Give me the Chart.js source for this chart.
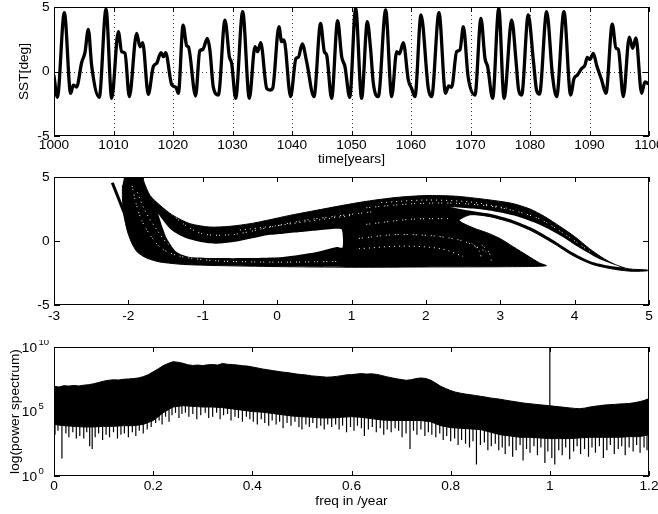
<!DOCTYPE html>
<html>
<head>
<meta charset="utf-8">
<script src="https://cdn.jsdelivr.net/npm/chart.js@4.4.1/dist/chart.umd.min.js"></script>
<style>
  body { margin: 0; background: #fff; }
  #figure { position: relative; width: 658px; height: 514px; overflow: hidden; }
  #figure canvas { position: absolute; left: 0; }
</style>
</head>
<body>
<div id="figure">
  <canvas id="sstSeries" width="658" height="170" style="top:0px"></canvas>
  <canvas id="phasePlot" width="658" height="170" style="top:170px"></canvas>
  <canvas id="powerSpec" width="658" height="174" style="top:340px"></canvas>
</div>
<script>
// ---- SST time series (years 1000-1100) ----
const years = [
  1000.0, 1000.56, 1001.74, 1002.8, 1003.25, 1003.8, 1004.65, 1005.2, 1005.77, 1006.33,
  1007.6, 1008.74, 1009.7, 1010.81, 1011.37, 1011.93, 1012.66, 1013.89, 1014.45, 1014.9,
  1015.85, 1016.69, 1017.25, 1017.98, 1018.38, 1018.76, 1019.8, 1020.5, 1020.9, 1021.7,
  1022.3, 1022.6, 1023.8, 1024.5, 1025.0, 1025.77, 1026.2, 1026.78, 1027.62, 1028.74,
  1029.47, 1029.86, 1030.53, 1031.71, 1032.83, 1033.78, 1034.23, 1034.74, 1035.75, 1036.3,
  1036.75, 1037.8, 1038.26, 1038.65, 1039.77, 1040.67, 1041.06, 1041.73, 1042.46, 1043.69,
  1044.81, 1045.43, 1045.82, 1046.66, 1047.67, 1048.35, 1048.9, 1049.7, 1050.7, 1051.7,
  1052.66, 1053.22, 1053.67, 1054.5, 1055.74, 1056.75, 1057.6, 1058.04, 1058.71, 1059.55,
  1060.1, 1060.67, 1061.68, 1062.91, 1063.47, 1064.7, 1065.8, 1066.33, 1066.83, 1067.67,
  1068.23, 1068.8, 1069.6, 1070.75, 1071.76, 1072.43, 1072.88, 1073.72, 1074.75, 1075.64,
  1076.93, 1077.66, 1078.05, 1078.6, 1079.7, 1080.56, 1081.1, 1081.6, 1082.8, 1083.8,
  1084.48, 1085.7, 1086.83, 1087.4, 1087.95, 1088.68, 1089.24, 1089.63, 1090.08, 1090.64,
  1091.2, 1092.04, 1092.77, 1093.83, 1094.45, 1094.84, 1095.68, 1096.69, 1097.25, 1097.81,
  1098.76, 1099.32, 1099.88, 1100.0
];
const sst = [
  -0.35, -2.0, 4.56, -1.7, -1.05, -1.2, 0.7, 1.46, 3.27, 0.45,
  -2.0, 4.84, -2.08, 3.09, 1.54, 1.41, -1.95, 2.96, 1.92, 2.23,
  -1.77, 0.38, 0.63, 1.46, 1.15, 1.46, -1.04, -1.22, -1.69, 3.6,
  2.0, 1.9, -1.9, 1.6, 1.7, 2.57, 1.67, -1.23, -1.82, 3.99,
  1.15, 0.63, -2.08, 4.64, -2.08, 1.93, 1.54, 2.23, -1.31, -1.44,
  -1.31, 3.47, 2.31, 2.44, -1.95, 1.02, 1.1, 2.13, 0.76, -1.95,
  3.73, 1.54, 1.28, -2.08, 3.94, 1.15, 0.38, -2.0, 4.9, -2.08,
  3.86, 1.67, -0.92, -1.95, 4.77, -1.95, 1.54, 1.36, 2.23, -0.66,
  -1.31, -1.95, 4.38, -1.31, -1.95, 4.56, -1.69, -1.12, -1.22, 1.54,
  1.67, 3.47, -0.41, -1.82, 4.12, 1.02, 0.38, -2.08, 4.9, -2.08,
  3.99, 0.76, -1.31, -1.82, 4.38, 0.89, -1.44, -1.75, 4.64, -0.41,
  -1.95, 4.64, -1.82, -0.54, -0.28, 0.23, 0.49, 1.1, 0.94, 1.41,
  0.49, -0.66, -1.69, 3.68, 1.8, 1.72, -1.95, 2.67, 1.8, 2.6,
  -1.69, -0.8, -0.93, -0.9
];

// ---- phase portrait: outline of the attractor cloud and its empty pockets ----
const phaseRim = [
  [-2.05, 5.2], [-1.82, 5.2], [-1.79, 4.6], [-1.71, 3.57], [-1.575, 2.79], [-1.4, 2.0],
  [-1.17, 1.35], [-0.9, 1.09], [-0.63, 1.15], [-0.365, 1.35], [-0.14, 1.61], [0.17, 2.0],
  [0.53, 2.4], [0.85, 2.75], [1.2, 3.1], [1.6, 3.4], [2.0, 3.55], [2.4, 3.5], [2.8, 3.25],
  [3.15, 2.95], [3.4, 2.5], [3.6, 1.9], [3.8, 1.15], [4.0, 0.35], [4.2, -0.6], [4.4, -1.4],
  [4.55, -1.85], [4.72, -2.17], [4.98, -2.27], [4.98, -2.33], [4.79, -2.37], [4.565, -2.24],
  [4.25, -1.85], [3.98, -1.15], [3.71, -0.16], [3.44, 0.73], [3.17, 1.4], [2.86, 1.9],
  [2.6, 2.05], [2.45, 1.6], [2.64, 1.02], [2.82, 0.65], [3.0, 0.18], [3.18, -0.47],
  [3.36, -1.12], [3.53, -1.72], [3.62, -1.93], [3.3, -2.0], [2.0, -2.03], [1.0, -2.05],
  [0.0, -2.0], [-0.8, -1.92], [-1.26, -1.83], [-1.575, -1.64], [-1.755, -1.33],
  [-1.88, -0.86], [-1.95, -0.21], [-2.01, 0.7], [-2.06, 2.0], [-2.08, 3.31], [-2.08, 4.35]
];
const phaseHole = [
  [-1.6, 2.13], [-1.44, 0.96], [-1.26, 0.31], [-1.03, -0.08], [-0.81, -0.21], [-0.59, -0.08],
  [-0.36, 0.18], [-0.14, 0.45], [0.08, 0.57], [0.31, 0.7], [0.53, 0.83], [0.8, 0.96],
  [0.87, 0.9], [0.88, -0.5], [0.8, -0.47], [0.53, -0.86], [0.08, -1.25], [-0.36, -1.33],
  [-0.81, -1.33], [-1.17, -1.25], [-1.35, -0.86], [-1.48, 0.18], [-1.55, 1.22]
];
const phaseGap = [
  [2.32, 2.66], [2.64, 2.53], [2.91, 2.32], [3.22, 1.93], [3.53, 1.27], [3.8, 0.45],
  [4.07, -0.55], [4.34, -1.43], [4.62, -2.06], [4.25, -1.66], [3.98, -0.92], [3.71, 0.08],
  [3.44, 0.97], [3.17, 1.62], [2.86, 2.12], [2.55, 2.4]
];
// loose, speckled lanes inside the cloud
const phaseStreaks = [
  [[-1.95, 4.3], [-1.9, 3.0], [-1.82, 1.6], [-1.7, 0.4], [-1.55, -0.6], [-1.3, -1.2], [-0.8, -1.55], [0.0, -1.65], [0.8, -1.6]],
  [[-1.88, 3.8], [-1.78, 2.4], [-1.62, 0.9], [-1.45, -0.3], [-1.15, -1.0]],
  [[-1.62, 3.3], [-1.45, 2.3], [-1.25, 1.3], [-1.0, 0.55], [-0.6, 0.5], [-0.2, 0.95], [0.3, 1.55], [0.8, 1.95], [1.3, 2.3]],
  [[-0.5, 0.85], [0.0, 1.2], [0.5, 1.6], [1.0, 2.0]],
  [[1.2, 2.6], [1.8, 2.9], [2.4, 2.95], [3.0, 2.6], [3.5, 1.8], [3.85, 0.6], [4.2, -0.8]],
  [[1.4, 3.0], [2.0, 3.2], [2.6, 3.05], [3.1, 2.55]],
  [[1.1, 0.2], [1.6, 0.5], [2.1, 0.4], [2.5, 0.0], [2.8, -0.8]],
  [[1.1, -0.6], [1.7, -0.4], [2.2, -0.6], [2.5, -1.2]],
  [[1.2, 1.3], [1.8, 1.7], [2.3, 1.75]],
  [[2.62, -0.2], [2.72, -0.8], [2.75, -1.5]],
  [[2.75, -0.3], [2.85, -0.9], [2.88, -1.55]]
];
const phaseSpur = [[-2.216, 4.55], [-1.98, 1.09]];

// ---- power spectrum, values as log10(power) ----
const specStep = 0.01;
const specTop = [
  6.95, 6.90, 7.00, 6.97, 7.02, 6.98, 7.04, 7.08, 7.15, 7.25,
  7.35, 7.42, 7.46, 7.44, 7.50, 7.52, 7.55, 7.60, 7.70, 7.85,
  8.08, 8.30, 8.55, 8.72, 8.86, 8.82, 8.74, 8.62, 8.57, 8.60,
  8.56, 8.62, 8.64, 8.60, 8.72, 8.66, 8.64, 8.60, 8.55, 8.52,
  8.45, 8.38, 8.30, 8.24, 8.18, 8.12, 8.06, 8.02, 7.96, 7.90,
  7.86, 7.82, 7.76, 7.73, 7.70, 7.66, 7.68, 7.72, 7.78, 7.84,
  7.86, 7.90, 7.94, 7.90, 7.92, 7.88, 7.80, 7.70, 7.62, 7.54,
  7.48, 7.42, 7.46, 7.55, 7.60, 7.56, 7.42, 7.20, 6.95, 6.78,
  6.62, 6.50, 6.42, 6.35, 6.30, 6.24, 6.18, 6.12, 6.05, 6.00,
  5.95, 5.88, 5.82, 5.76, 5.70, 5.64, 5.60, 5.56, 5.52, 5.48,
  5.45, 5.40, 5.36, 5.32, 5.28, 5.24, 5.22, 5.26, 5.34, 5.40,
  5.45, 5.50, 5.53, 5.55, 5.58, 5.60, 5.62, 5.68, 5.75, 5.85,
  6.00
];
const baseStep = 0.02;
const specBase = [
  4.0, 3.9, 3.85, 3.8, 3.8, 3.85, 3.85, 3.9, 3.9, 4.0,
  4.3, 4.9, 5.35, 5.45, 5.4, 5.35, 5.35, 5.3, 5.2, 5.1,
  5.0, 4.95, 4.85, 4.75, 4.65, 4.6, 4.55, 4.5, 4.5, 4.55,
  4.6, 4.55, 4.45, 4.35, 4.3, 4.3, 4.3, 4.3, 4.2, 3.9,
  3.75, 3.7, 3.65, 3.6, 3.4, 3.2, 3.1, 3.0, 3.0, 2.95,
  2.9, 2.9, 2.9, 2.95, 3.0, 3.0, 3.0, 3.0, 3.05, 3.05,
  3.2
];
const spikeFreq = [
  0.002, 0.008, 0.016, 0.024, 0.03, 0.038, 0.045, 0.052, 0.06, 0.066,
  0.072, 0.077, 0.083, 0.09, 0.098, 0.105, 0.112, 0.12, 0.128, 0.135,
  0.142, 0.15, 0.158, 0.165, 0.172, 0.18, 0.188, 0.196,
  0.205, 0.212, 0.218, 0.225, 0.232, 0.238, 0.245, 0.252, 0.258,
  0.265, 0.272, 0.28, 0.288, 0.296, 0.305, 0.312, 0.32, 0.328, 0.335,
  0.342, 0.35, 0.357, 0.365, 0.372, 0.38, 0.388, 0.395,
  0.402, 0.41, 0.418, 0.425, 0.433, 0.44, 0.448, 0.455, 0.462, 0.47,
  0.478, 0.486, 0.494, 0.5, 0.508, 0.515, 0.522, 0.53, 0.538, 0.545, 0.552,
  0.56, 0.568, 0.575, 0.582, 0.59, 0.598, 0.605, 0.612, 0.62, 0.626,
  0.634, 0.642, 0.65, 0.658, 0.665, 0.672, 0.68, 0.688, 0.695, 0.702,
  0.71, 0.718, 0.725, 0.732, 0.74, 0.748, 0.755,
  0.762, 0.77, 0.778, 0.785, 0.792, 0.8, 0.808, 0.815, 0.822, 0.83,
  0.838, 0.845, 0.852, 0.86, 0.868, 0.875, 0.882, 0.89, 0.897,
  0.904, 0.91, 0.918, 0.925, 0.932, 0.94, 0.946, 0.953, 0.96, 0.968,
  0.975, 0.982, 0.99, 0.996, 1.004, 1.01, 1.018, 1.025, 1.032, 1.04,
  1.048, 1.055, 1.062, 1.07, 1.078, 1.085, 1.092, 1.1, 1.108, 1.115,
  1.122, 1.13, 1.138, 1.145, 1.152, 1.16, 1.168, 1.175, 1.182, 1.19,
  1.196
];
const spikeTip = [
  3.2, 3.5, 1.35, 3.3, 3.0, 3.4, 2.9, 3.1, 2.9, 3.4,
  2.3, 2.1, 3.0, 3.3, 2.8, 3.2, 3.0, 3.4, 2.9, 3.2,
  3.3, 3.0, 3.4, 3.1, 3.5, 3.3, 3.6, 3.8,
  4.1, 4.3, 4.0, 4.6, 4.2, 4.7, 4.9, 4.5, 4.8,
  4.9, 4.6, 4.8, 4.4, 4.7, 4.9, 4.5, 4.6, 4.9, 4.4,
  4.7, 4.8, 4.3, 4.6, 4.5, 4.2, 4.6, 4.4,
  4.2, 4.0, 4.4, 4.1, 3.9, 4.3, 4.0, 4.2, 3.7, 4.1,
  3.9, 4.2, 3.8, 3.6, 4.0, 3.8, 4.1, 3.7, 3.9, 3.6, 4.0,
  3.8, 4.0, 3.6, 3.9, 3.4, 3.8, 3.5, 3.9, 3.7, 3.1,
  3.6, 3.8, 3.4, 3.7, 3.2, 3.6, 3.4, 3.7, 3.5, 3.0,
  3.3, 2.1, 3.5, 3.2, 3.6, 3.1, 3.4,
  3.2, 3.0, 3.3, 2.8, 3.1, 2.7, 2.9, 2.4, 2.8, 2.5,
  2.2, 2.7, 0.9, 2.4, 2.6, 2.0, 2.3, 2.5, 2.0,
  2.2, 1.7, 2.3, 1.5, 2.0, 2.4, 1.2, 2.1, 1.8, 2.3,
  1.6, 2.2, 1.0, 1.9, 1.4, 0.9, 2.0, 1.6, 2.2, 1.3,
  1.9, 2.3, 1.7, 2.1, 1.5, 2.2, 1.8, 2.3, 1.4, 2.0,
  2.4, 1.7, 2.1, 2.3, 1.6, 2.2, 1.9, 2.4, 1.8, 2.2,
  2.0
];
// annual cycle line
const annualFreq = 1.0;
const annualRange = [5.0, 10.5];
const powerTicks = [1, 1e5, 1e10];

// ---- shared look ----
const FONT = '"Liberation Sans", Arial, Helvetica, sans-serif';
Chart.defaults.font.family = FONT;
Chart.defaults.font.size = 13.7;
Chart.defaults.color = '#000';

const toPts = pairs => pairs.map(([x, y]) => ({ x, y }));
const plainNum = v => String(+v.toFixed(2));

function baseAt(f) {
  const pos = f / baseStep;
  const i = Math.min(Math.floor(pos), specBase.length - 2);
  const w = pos - i;
  return specBase[i] * (1 - w) + specBase[i + 1] * w;
}

// Boxed axes with inward ticks, optional dotted grid
const matlabFrame = {
  id: 'matlabFrame',
  beforeDatasetsDraw(chart, args, opts) {
    if (!opts.grid) return;
    const { ctx, chartArea: a, scales: { x, y } } = chart;
    ctx.save();
    ctx.strokeStyle = 'rgba(0,0,0,0.8)';
    ctx.lineWidth = 1;
    ctx.setLineDash([1, 3]);
    ctx.beginPath();
    x.ticks.forEach(t => {
      const px = Math.round(x.getPixelForValue(t.value)) + 0.5;
      if (px - a.left < 3 || a.right - px < 3) return;
      ctx.moveTo(px, a.top); ctx.lineTo(px, a.bottom);
    });
    y.ticks.forEach(t => {
      const py = Math.round(y.getPixelForValue(t.value)) + 0.5;
      if (py - a.top < 3 || a.bottom - py < 3) return;
      ctx.moveTo(a.left, py); ctx.lineTo(a.right, py);
    });
    ctx.stroke();
    ctx.restore();
  },
  afterDatasetsDraw(chart) {
    const { ctx, chartArea: a, scales: { x, y } } = chart;
    ctx.save();
    ctx.strokeStyle = '#000';
    ctx.lineWidth = 1;
    ctx.beginPath();
    x.ticks.forEach(t => {
      const px = Math.round(x.getPixelForValue(t.value)) + 0.5;
      ctx.moveTo(px, a.bottom); ctx.lineTo(px, a.bottom - 5);
      ctx.moveTo(px, a.top); ctx.lineTo(px, a.top + 5);
    });
    y.ticks.forEach(t => {
      const py = Math.round(y.getPixelForValue(t.value)) + 0.5;
      ctx.moveTo(a.left, py); ctx.lineTo(a.left + 6, py);
      ctx.moveTo(a.right, py); ctx.lineTo(a.right - 6, py);
    });
    ctx.stroke();
    ctx.strokeRect(a.left + 0.5, a.top + 0.5, a.right - a.left - 1, a.bottom - a.top - 1);
    ctx.restore();
  }
};

// 10^n labels for the log axis
const powerLabels = {
  id: 'powerLabels',
  afterDraw(chart) {
    const { ctx, scales: { y } } = chart;
    ctx.save();
    ctx.fillStyle = '#000';
    ctx.textBaseline = 'middle';
    y.ticks.forEach(t => {
      const py = y.getPixelForValue(t.value);
      ctx.font = '13.7px ' + FONT;
      ctx.textAlign = 'right';
      ctx.fillText('10', 37, py + 1);
      ctx.font = '9.5px ' + FONT;
      ctx.textAlign = 'left';
      ctx.fillText(String(Math.round(Math.log10(t.value))), 38.5, py - 5);
    });
    ctx.restore();
  }
};

function commonOptions(grid) {
  return {
    responsive: false,
    animation: false,
    devicePixelRatio: 1,
    events: [],
    layout: { padding: { left: 0, right: 9, top: 7, bottom: 0 } },
    plugins: { legend: { display: false }, tooltip: { enabled: false }, matlabFrame: { grid } },
    elements: { point: { radius: 0 } }
  };
}

function xAxis(min, max, step, height, pad, title, titlePad) {
  return {
    type: 'linear', min, max,
    grid: { display: false, drawTicks: false },
    border: { display: false },
    ticks: { stepSize: step, autoSkip: false, maxRotation: 0, padding: pad, callback: plainNum },
    title: { display: !!title, text: title || '', padding: { top: 0, bottom: titlePad } },
    afterFit: s => { s.height = height; s.paddingLeft = 0; s.paddingRight = 0; }
  };
}

function linearY(title, titlePad) {
  return {
    min: -5, max: 5,
    grid: { display: false, drawTicks: false }, border: { display: false },
    ticks: { stepSize: 5, padding: 4.5, callback: plainNum },
    title: { display: !!title, text: title || '', padding: { top: titlePad, bottom: 0 } },
    afterFit: s => { s.width = 54; s.paddingTop = 0; s.paddingBottom = 0; }
  };
}

// ---- 1: time series ----
const opt1 = commonOptions(true);
opt1.scales = {
  x: xAxis(1000, 1100, 10, 34, 1, 'time[years]', 2.8),
  y: linearY('SST[deg]', 15.8)
};
new Chart(document.getElementById('sstSeries'), {
  type: 'line',
  data: {
    datasets: [{
      data: years.map((t, i) => ({ x: t, y: sst[i] })),
      borderColor: '#000', borderWidth: 3.3, fill: false,
      cubicInterpolationMode: 'monotone', borderJoinStyle: 'round', borderCapStyle: 'round'
    }]
  },
  options: opt1,
  plugins: [matlabFrame]
});

// ---- 2: phase portrait ----
const opt2 = commonOptions(false);
opt2.scales = {
  x: xAxis(-3, 5, 1, 35, 3.5, null, 0),
  y: linearY(null, 0)
};
const phaseSets = [
  { data: toPts(phaseRim), fill: 'shape', backgroundColor: '#000', borderColor: '#000', borderWidth: 1, tension: 0.25, order: 10 },
  { data: toPts(phaseHole), fill: 'shape', backgroundColor: '#fff', borderColor: '#fff', borderWidth: 0, tension: 0.25, order: 9 },
  { data: toPts(phaseGap), fill: 'shape', backgroundColor: '#fff', borderColor: '#fff', borderWidth: 0, tension: 0.25, order: 9 }
];
phaseStreaks.forEach((s, k) => phaseSets.push({
  data: toPts(s), fill: false, borderColor: '#fff', borderWidth: 1,
  borderDash: k % 2 ? [1, 4] : [1, 2, 1, 5], tension: 0.3, order: 8
}));
phaseSets.push({ data: toPts(phaseSpur), fill: false, borderColor: '#000', borderWidth: 3, order: 1 });
new Chart(document.getElementById('phasePlot'), {
  type: 'line',
  data: { datasets: phaseSets },
  options: opt2,
  plugins: [matlabFrame]
});

// ---- 3: power spectrum ----
const spikePts = [];
spikeFreq.forEach((f, i) => {
  spikePts.push({ x: f, y: 10 ** (baseAt(f) + 0.15) }, { x: f, y: 10 ** spikeTip[i] }, { x: f, y: null });
});
const opt3 = commonOptions(false);
opt3.scales = {
  x: xAxis(0, 1.2, 0.2, 38, 2, 'freq in /year', 4.8),
  y: {
    type: 'logarithmic', min: 1, max: 1e10,
    grid: { display: false, drawTicks: false }, border: { display: false },
    ticks: { display: false },
    afterBuildTicks: s => { s.ticks = powerTicks.map(v => ({ value: v })); },
    title: { display: true, text: 'log(power spectrum)', padding: { top: 7.4, bottom: 0 } },
    afterFit: s => { s.width = 54; s.paddingTop = 0; s.paddingBottom = 0; }
  }
};
new Chart(document.getElementById('powerSpec'), {
  type: 'line',
  data: {
    datasets: [
      { data: specTop.map((v, i) => ({ x: i * specStep, y: 10 ** v })), fill: 'start',
        backgroundColor: '#000', borderColor: '#000', borderWidth: 1, order: 4 },
      { data: specBase.map((v, i) => ({ x: i * baseStep, y: 10 ** v })), fill: 'start',
        backgroundColor: '#fff', borderColor: '#000', borderWidth: 1, order: 3 },
      { data: spikePts, fill: false, borderColor: '#000', borderWidth: 1.2, spanGaps: false, order: 2 },
      { data: annualRange.map(v => ({ x: annualFreq, y: 10 ** v })), fill: false,
        borderColor: '#000', borderWidth: 1.2, order: 1 }
    ]
  },
  options: opt3,
  plugins: [matlabFrame, powerLabels]
});
</script>
</body>
</html>
